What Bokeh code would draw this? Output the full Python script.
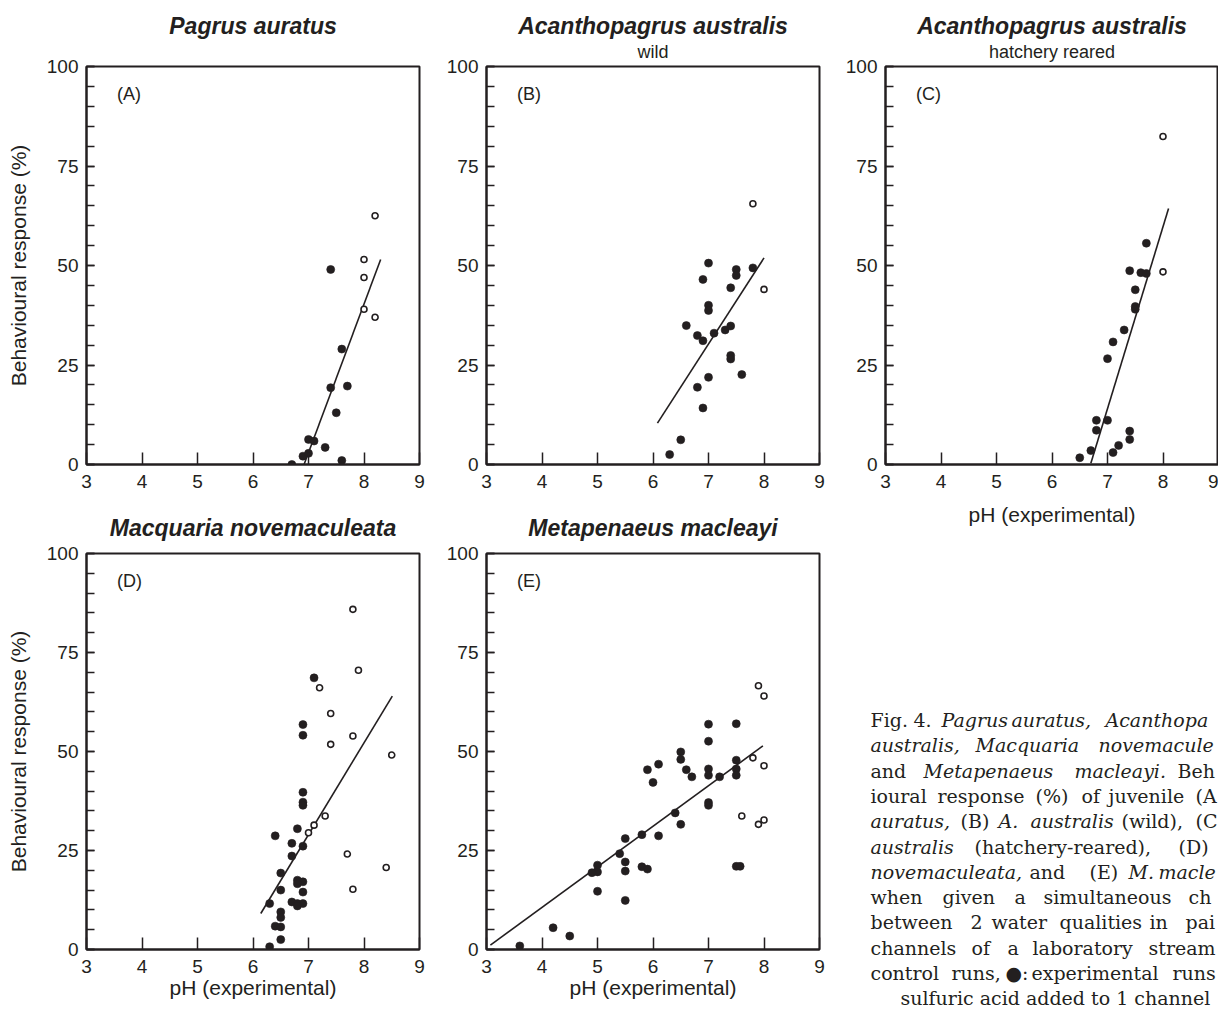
from bokeh.plotting import figure
from bokeh.layouts import row, column
from bokeh.models import Range1d, FixedTicker, Label, Title, ColumnDataSource
from bokeh.embed import file_html
from bokeh.resources import INLINE
from bokeh.core.properties import value

INK = "#231f20"
FONT = "Liberation Sans"
SERIF = "DejaVu Serif"

# ---------------- data ----------------
# (A) Pagrus auratus
a_ctrl_ph = [8.2, 8.0, 8.0, 8.0, 8.2]
a_ctrl_resp = [62.5, 51.5, 47.0, 39.0, 37.0]
a_exp_ph = [7.4, 7.6, 7.4, 7.7, 7.5, 7.0, 7.1, 7.3, 6.9, 7.0, 7.6, 6.7]
a_exp_resp = [49.0, 29.0, 19.3, 19.7, 13.0, 6.3, 5.9, 4.3, 2.1, 2.8, 1.0, 0.0]
a_fit_ph = [6.92, 8.3]
a_fit_resp = [0.0, 51.5]

# (B) Acanthopagrus australis, wild
b_ctrl_ph = [7.8, 8.0]
b_ctrl_resp = [65.5, 44.0]
b_exp_ph = [7.0, 7.5, 7.5, 7.8, 6.9, 7.4, 7.0, 7.0, 6.6, 6.8, 6.9, 7.1, 7.3, 7.4,
            7.4, 7.4, 7.6, 7.0, 6.8, 6.9, 6.5, 6.3]
b_exp_resp = [50.6, 49.0, 47.5, 49.4, 46.5, 44.4, 40.0, 38.7, 34.9, 32.4, 31.1, 33.0, 33.8, 34.8,
              27.4, 26.5, 22.6, 21.9, 19.4, 14.2, 6.2, 2.5]
b_fit_ph = [6.08, 8.0]
b_fit_resp = [10.4, 51.9]

# (C) Acanthopagrus australis, hatchery reared
c_ctrl_ph = [8.0, 8.0]
c_ctrl_resp = [82.4, 48.4]
c_exp_ph = [7.7, 7.4, 7.6, 7.7, 7.5, 7.5, 7.5, 7.3, 7.1, 7.0, 6.8, 7.0, 6.8, 7.4,
            7.4, 7.2, 7.1, 6.7, 6.5]
c_exp_resp = [55.6, 48.7, 48.2, 48.0, 43.9, 39.7, 39.0, 33.8, 30.8, 26.6, 11.1, 11.1, 8.6, 8.4,
              6.3, 4.8, 3.0, 3.5, 1.7]
c_fit_ph = [6.7, 8.1]
c_fit_resp = [0.3, 64.3]

# (D) Macquaria novemaculeata
d_ctrl_ph = [7.8, 7.9, 7.2, 7.4, 7.4, 7.8, 8.5, 7.3, 7.1, 7.0, 7.7, 8.4, 7.8]
d_ctrl_resp = [85.9, 70.5, 66.1, 59.6, 51.8, 53.9, 49.1, 33.7, 31.4, 29.5, 24.1, 20.7, 15.2]
d_exp_ph = [7.1, 6.9, 6.9, 6.9, 6.9, 6.9, 6.8, 6.4, 6.7, 6.9, 6.7, 6.5, 6.8, 6.9, 6.8,
            6.5, 6.9, 6.7, 6.8, 6.9, 6.8, 6.3, 6.5, 6.5, 6.4, 6.5, 6.5, 6.3]
d_exp_resp = [68.6, 56.8, 54.1, 39.7, 37.2, 36.4, 30.5, 28.7, 26.8, 26.1, 23.6, 19.3, 17.5, 17.1, 16.6,
              15.0, 14.5, 12.0, 11.6, 11.6, 11.0, 11.6, 9.5, 8.1, 5.9, 5.7, 2.5, 0.7]
d_fit_ph = [6.14, 8.51]
d_fit_resp = [9.1, 64.0]

# (E) Metapenaeus macleayi
e_ctrl_ph = [7.9, 8.0, 7.8, 8.0, 7.6, 7.9, 8.0]
e_ctrl_resp = [66.6, 64.0, 48.4, 46.4, 33.7, 31.6, 32.7]
e_exp_ph = [7.0, 7.5, 7.0, 6.5, 6.5, 5.9, 6.1, 6.0, 6.6, 6.7, 7.0, 7.0, 7.2, 7.5, 7.5, 7.5,
            7.0, 7.0, 6.4, 6.5, 5.8, 6.1, 5.5, 5.4, 5.5, 5.5, 5.0, 5.0, 4.9, 5.8, 5.9, 7.5,
            7.57, 5.0, 5.5, 4.2, 4.5, 3.6]
e_exp_resp = [56.9, 57.0, 52.6, 49.9, 48.0, 45.4, 46.8, 42.2, 45.4, 43.6, 45.6, 44.0, 43.6, 47.8, 45.6, 44.0,
              37.1, 36.4, 34.5, 31.6, 29.0, 28.7, 28.0, 24.2, 22.1, 19.8, 21.3, 19.6, 19.4, 20.9, 20.3, 21.0,
              21.0, 14.7, 12.4, 5.5, 3.4, 0.9]
e_fit_ph = [3.07, 7.98]
e_fit_resp = [1.1, 51.4]

x_ticks = [3, 4, 5, 6, 7, 8, 9]
y_ticks = [0, 25, 50, 75, 100]
y_minor = list(range(0, 101, 5))

titles = ["Pagrus auratus", "Acanthopagrus australis", "Acanthopagrus australis",
          "Macquaria novemaculeata", "Metapenaeus macleayi"]
subtitles = [" ", "wild", "hatchery reared", None, None]
letters = ["(A)", "(B)", "(C)", "(D)", "(E)"]
YL = "Behavioural response (%)"
XL = "pH (experimental)"

# caption text as printed (lines clipped at the right edge of the page), (word, italic)
cap_words = [
    [("Fig.", 0), ("4.", 0), ("Pagrus", 1), ("auratus,", 1), ("Acanthopa", 1)],
    [("australis,", 1), ("Macquaria", 1), ("novemacule", 1)],
    [("and", 0), ("Metapenaeus", 1), ("macleayi.", 1), ("Beh", 0)],
    [("ioural", 0), ("response", 0), ("(%)", 0), ("of", 0), ("juvenile", 0), ("(A", 0)],
    [("auratus,", 1), ("(B)", 0), ("A.", 1), ("australis", 1), ("(wild),", 0), ("(C", 0)],
    [("australis", 1), ("(hatchery-reared),", 0), ("(D)", 0)],
    [("novemaculeata,", 1), ("and", 0), ("(E)", 0), ("M.", 1), ("macle", 1)],
    [("when", 0), ("given", 0), ("a", 0), ("simultaneous", 0), ("ch", 0)],
    [("between", 0), ("2", 0), ("water", 0), ("qualities", 0), ("in", 0), ("pai", 0)],
    [("channels", 0), ("of", 0), ("a", 0), ("laboratory", 0), ("stream", 0)],
    [("control", 0), ("runs,", 0), ("\u25cf:", 0), ("experimental", 0), ("runs", 0)],
    [("sulfuric acid added to 1 channel", 0)],
]
# page x of each word (justified layout)
cap_word_x = [
    [870, 913, 941, 1011, 1105],
    [870, 975, 1098],
    [870, 923, 1074, 1177],
    [870, 937, 1035, 1081, 1108, 1195],
    [870, 960, 998, 1030, 1121, 1195],
    [870, 974, 1178],
    [870, 1029, 1089, 1128, 1158],
    [870, 942, 1014, 1043, 1188],
    [870, 970, 991, 1059, 1149, 1185],
    [870, 971, 1007, 1032, 1148],
    [870, 951, 1005, 1031, 1172],
    [900],
]

# ---------------- layout (page pixels) ----------------
FW = 333
FRAME_H = [398, 398, 398, 396, 396]


def make_panel(k, cx, cy, ex, ey, fx, fy, bl, br, bt, bb, ylabel, xlabel, xl_standoff,
               title_standoff, sub_standoff):
    p = figure(frame_width=FW, frame_height=FRAME_H[k],
               x_range=Range1d(3, 9), y_range=Range1d(0, 100),
               output_backend="svg", toolbar_location=None, title=None,
               min_border_left=bl, min_border_right=br,
               min_border_top=bt, min_border_bottom=bb)
    p.grid.visible = False
    p.outline_line_color = INK
    p.outline_line_width = 2
    p.outline_line_alpha = 1.0

    p.line(fx, fy, line_color=INK, line_width=1.6)
    p.scatter(ex, ey, marker="circle", size=8, fill_color=INK, line_color=INK, line_width=0.6)
    p.scatter(cx, cy, marker="circle", size=6, fill_color="white", line_color=INK, line_width=1.6)

    xa = p.xaxis[0]
    xa.ticker = FixedTicker(ticks=x_ticks)
    xa.major_tick_in = 12
    xa.major_tick_out = 0
    xa.minor_tick_in = 0
    xa.minor_tick_out = 0
    xa.major_tick_line_width = 1.5
    xa.major_tick_line_color = INK
    xa.axis_line_width = 2
    xa.axis_line_color = INK
    xa.major_label_text_font = FONT
    xa.major_label_text_font_size = "19px"
    xa.major_label_text_color = INK
    xa.major_label_standoff = 10
    if xlabel:
        xa.axis_label = xlabel
        xa.axis_label_text_font = FONT
        xa.axis_label_text_font_size = "21px"
        xa.axis_label_text_font_style = "normal"
        xa.axis_label_text_color = INK
        xa.axis_label_standoff = xl_standoff

    ya = p.yaxis[0]
    ya.ticker = FixedTicker(ticks=y_ticks, minor_ticks=y_minor)
    ya.major_tick_in = 8
    ya.major_tick_out = 0
    ya.minor_tick_in = 8
    ya.minor_tick_out = 0
    ya.major_tick_line_width = 1.5
    ya.minor_tick_line_width = 1.5
    ya.major_tick_line_color = INK
    ya.minor_tick_line_color = INK
    ya.axis_line_width = 2
    ya.axis_line_color = INK
    ya.major_label_text_font = FONT
    ya.major_label_text_font_size = "19px"
    ya.major_label_text_color = INK
    ya.major_label_standoff = 8
    if ylabel:
        ya.axis_label = ylabel
        ya.axis_label_text_font = FONT
        ya.axis_label_text_font_size = "21px"
        ya.axis_label_text_font_style = "normal"
        ya.axis_label_text_color = INK
        ya.axis_label_standoff = 14

    # titles: the one added first sits closest to the frame
    if subtitles[k] is not None:
        p.add_layout(Title(text=subtitles[k], align="center",
                           text_font=FONT, text_font_size="18px", text_font_style="normal",
                           text_color=INK, standoff=sub_standoff), "above")
    t = Title(text=titles[k], align="center",
              text_font=FONT, text_font_size="23px", text_font_style="bold italic",
              text_color=INK)
    try:
        t.standoff = title_standoff
    except Exception:
        t.standoff = 0
    p.add_layout(t, "above")

    p.add_layout(Label(x=3.55, y=93, text=letters[k], text_baseline="middle",
                       text_font=FONT, text_font_size="18px", text_color=INK))
    return p


pA = make_panel(0, a_ctrl_ph, a_ctrl_resp, a_exp_ph, a_exp_resp, a_fit_ph, a_fit_resp,
                86, 20, 66, 35, YL, None, 12, -7, 9)
pB = make_panel(1, b_ctrl_ph, b_ctrl_resp, b_exp_ph, b_exp_resp, b_fit_ph, b_fit_resp,
                47, 20, 66, 35, None, None, 12, -7, 9)
pC = make_panel(2, c_ctrl_ph, c_ctrl_resp, c_exp_ph, c_exp_resp, c_fit_ph, c_fit_resp,
                46, 0, 66, 84, None, XL, 12, -7, 9)
pD = make_panel(3, d_ctrl_ph, d_ctrl_resp, d_exp_ph, d_exp_resp, d_fit_ph, d_fit_resp,
                86, 20, 54, 60, YL, XL, 0, 26, 0)
pE = make_panel(4, e_ctrl_ph, e_ctrl_resp, e_exp_ph, e_exp_resp, e_fit_ph, e_fit_resp,
                47, 20, 54, 60, None, XL, 0, 26, 0)

# ---------------- figure caption (below panel C) ----------------
CAP_LEFT, CAP_RIGHT = 839, 1218
CAP_TOP, CAP_BOTTOM = 66 + 398 + 84, 1009
CAP_SHIFT = 5          # the caption column sits this much lower in the rendered row
cap = figure(width=CAP_RIGHT - CAP_LEFT, height=CAP_BOTTOM - CAP_TOP,
             x_range=Range1d(CAP_LEFT, CAP_RIGHT),
             y_range=Range1d(CAP_BOTTOM + CAP_SHIFT, CAP_TOP + CAP_SHIFT),
             output_backend="svg", toolbar_location=None, title=None,
             x_axis_location=None, y_axis_location=None,
             min_border_left=0, min_border_right=0, min_border_top=0, min_border_bottom=0)
cap.grid.visible = False
cap.outline_line_color = None
if "frame_align" in cap.properties():
    cap.frame_align = False

rom = dict(x=[], y=[], t=[])
ita = dict(x=[], y=[], t=[])
for i, (words, xs) in enumerate(zip(cap_words, cap_word_x)):
    base = 724.5 + 25.3 * i
    for (w, it), px in zip(words, xs):
        d = ita if it else rom
        d["x"].append(px)
        d["y"].append(base)
        d["t"].append(w)
for d, style in ((rom, "normal"), (ita, "italic")):
    cap.text(x="x", y="y", text="t", source=ColumnDataSource(d),
             text_font=value(SERIF), text_font_size="19px", text_font_style=style,
             text_color=INK, text_baseline="alphabetic", text_align="left")

layout = row(column(pA, pD), column(pB, pE), column(pC, cap))

open("out.html", "w").write(file_html(layout, INLINE, title="Fig. 4"))
